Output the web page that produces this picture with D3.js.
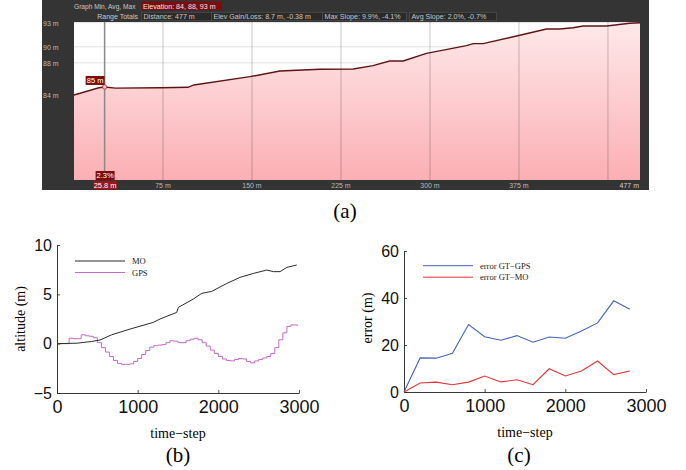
<!DOCTYPE html>
<html>
<head>
<meta charset="utf-8">
<script src="https://cdn.jsdelivr.net/npm/d3@7"></script>
<style>
  body { margin: 0; background: #fff; }
  svg { display: block; }
</style>
</head>
<body>
<div id="chart"></div>
<script>
// ---- panel (a): elevation profile screenshot ----
const elevDist = [0, 21, 25.8, 35, 72.5, 96, 101, 148.3, 173.5, 207.2, 235.3, 252, 266, 277.4, 297, 330.8, 336.4, 344.8, 373, 398.2, 409.4, 420.6, 429, 448.8, 468.4, 477];
const elevM    = [84.0, 84.9, 85.0, 84.85, 84.9, 84.96, 85.25, 86.28, 86.99, 87.2, 87.24, 87.65, 88.23, 88.23, 89.19, 90.14, 90.39, 90.39, 91.35, 92.22, 92.22, 92.38, 92.59, 92.59, 92.93, 93.0];
const elevTicksY = [93, 90, 88, 84];
const elevGridX = [75, 150, 225, 300, 375, 450];
const elevLabelsX = [75, 150, 225, 300, 375];
const totalDist = 477;
const cursorDist = 25.8;
const cursorElev = 85;
const cursorSlope = '2.3%';
const headerBoxes = [
  { x0: 0,   x1: 70,  text: 'Distance: 477 m' },
  { x0: 70,  x1: 181, text: 'Elev Gain/Loss: 8.7 m, -0.38 m' },
  { x0: 181, x1: 265, text: 'Max Slope: 9.9%, -4.1%' },
  { x0: 268, x1: 355, text: 'Avg Slope: 2.0%, -0.7%' }
];

// ---- panel (b): altitude ----
const moStep = [0, 250, 430, 533, 678, 905, 1195, 1277, 1484, 1505, 1690, 1794, 1918, 2104, 2269, 2435, 2600, 2683, 2765, 2848, 2972];
const moAlt  = [0, 0.05, 0.22, 0.37, 0.9, 1.48, 2.16, 2.5, 3.17, 3.68, 4.52, 5.1, 5.3, 6.1, 6.72, 7.12, 7.46, 7.3, 7.3, 7.73, 7.97];
const gpsStep = [0, 50, 100, 150, 200, 250, 300, 350, 400, 450, 500, 550, 600, 650, 700, 750, 800, 850, 900, 950,
  1000, 1050, 1100, 1150, 1200, 1250, 1300, 1350, 1400, 1450, 1500, 1550, 1600, 1650, 1700, 1750, 1800, 1850, 1900, 1950,
  2000, 2050, 2100, 2150, 2200, 2250, 2300, 2350, 2400, 2450, 2500, 2550, 2600, 2650, 2700, 2750, 2800, 2850, 2900, 2950, 2980];
const gpsAlt = [0, 0, 0, 0.55, 0.5, 0.5, 0.9, 0.8, 0.75, 0.6, 0.1, -0.4, -0.85, -1.3, -1.7, -2.0, -2.1, -2.1, -2.05, -1.8,
  -1.5, -1.1, -0.7, -0.35, -0.2, -0.15, -0.1, 0.1, 0.3, 0.25, 0.1, 0.1, 0.3, 0.45, 0.55, 0.4, 0.1, -0.25, -0.65, -1.0,
  -1.3, -1.55, -1.7, -1.75, -1.6, -1.5, -1.55, -1.8, -1.95, -1.75, -1.6, -1.45, -1.3, -1.0, -0.4, 0.4, 1.1, 1.75, 1.9, 1.9, 1.8];

// ---- panel (c): error ----
const errStep = [0, 200, 400, 600, 800, 1000, 1200, 1400, 1600, 1800, 2000, 2200, 2400, 2600, 2800];
const errGps  = [0, 14.5, 14.4, 16.5, 28.7, 23.5, 22, 24, 21.2, 23.4, 22.9, 26, 29.4, 38.8, 35.2];
const errMo   = [0, 3.8, 4.2, 3.1, 4.2, 6.8, 4.3, 5.2, 3.1, 9.9, 6.8, 8.9, 13.2, 7.4, 8.9];
const timeTicks = [0, 1000, 2000, 3000];

const W = 686, H = 470;
const sans = 'Liberation Sans, Arial, sans-serif';
const serif = 'Liberation Serif, Times New Roman, serif';

const svg = d3.select('#chart').append('svg')
  .attr('width', W).attr('height', H);

// ============ (a) ============
const a = { left: 74, right: 640, top: 22, bottom: 180 };
const xa = d3.scaleLinear().domain([0, totalDist]).range([a.left, a.right]);
const ya = d3.scaleLinear().domain([84, 93]).range([95, 22.7]);

const ga = svg.append('g');
ga.append('rect').attr('x', 42).attr('y', 0).attr('width', 607).attr('height', 190).attr('fill', '#343434');
ga.append('rect').attr('x', a.left).attr('y', a.top).attr('width', a.right - a.left).attr('height', a.bottom - a.top).attr('fill', '#fff');

const defs = svg.append('defs');
const grad = defs.append('linearGradient').attr('id', 'pink')
  .attr('gradientUnits', 'userSpaceOnUse')
  .attr('x1', 0).attr('y1', a.top).attr('x2', 0).attr('y2', a.bottom);
grad.append('stop').attr('offset', 0).attr('stop-color', '#fee9ea');
grad.append('stop').attr('offset', 1).attr('stop-color', '#fbafb4');

// horizontal grid
ga.selectAll('.hgrid').data(elevTicksY).enter().append('line')
  .attr('x1', a.left).attr('x2', a.right)
  .attr('y1', d => ya(d)).attr('y2', d => ya(d))
  .attr('stroke', '#e2e2e2').attr('stroke-width', 1);

const elevData = elevDist.map((d, i) => ({ d, e: elevM[i] }));
ga.append('path').datum(elevData)
  .attr('d', d3.area().x(p => xa(p.d)).y0(a.bottom).y1(p => ya(p.e)))
  .attr('fill', 'url(#pink)');

// vertical grid
ga.selectAll('.vgrid').data(elevGridX).enter().append('line')
  .attr('x1', d => xa(d)).attr('x2', d => xa(d))
  .attr('y1', a.top).attr('y2', a.bottom)
  .attr('stroke', 'rgba(0,0,0,0.22)').attr('stroke-width', 1);

ga.append('path').datum(elevData)
  .attr('d', d3.line().x(p => xa(p.d)).y(p => ya(p.e)))
  .attr('fill', 'none').attr('stroke', '#5e1414').attr('stroke-width', 1.4);

// cursor
ga.append('line')
  .attr('x1', xa(cursorDist)).attr('x2', xa(cursorDist))
  .attr('y1', a.top).attr('y2', a.bottom)
  .attr('stroke', '#8a8a8a').attr('stroke-width', 1.5);
ga.append('circle').attr('cx', xa(cursorDist)).attr('cy', ya(cursorElev)).attr('r', 2.2)
  .attr('fill', '#f6c6c9').attr('stroke', '#a03030').attr('stroke-width', 0.8);

function tag(x, y, w, h, text, fill) {
  ga.append('rect').attr('x', x).attr('y', y).attr('width', w).attr('height', h).attr('fill', fill);
  ga.append('text').attr('x', x + w / 2).attr('y', y + h / 2 + 2.6)
    .attr('text-anchor', 'middle').attr('fill', '#fff')
    .attr('font-family', sans).attr('font-size', 7.5).text(text);
}
tag(xa(cursorDist) - 19, ya(cursorElev) - 11, 19, 9, cursorElev + ' m', '#7d0d0d');
tag(xa(cursorDist) - 9, a.bottom - 9, 19, 9, cursorSlope, '#7d0d0d');
tag(xa(cursorDist) - 11, a.bottom + 1, 23, 8.5, cursorDist + ' m', '#9e1616');

// axis labels
ga.selectAll('.ylab').data(elevTicksY).enter().append('text')
  .attr('x', 43).attr('y', d => ya(d) + 3)
  .attr('fill', '#b8b8b8').attr('font-family', sans).attr('font-size', 7)
  .text(d => d + ' m');
ga.selectAll('.xlab').data(elevLabelsX).enter().append('text')
  .attr('x', d => xa(d)).attr('y', 187.5)
  .attr('text-anchor', 'middle')
  .attr('fill', '#b8b8b8').attr('font-family', sans).attr('font-size', 7)
  .text(d => d + ' m');
ga.append('text').attr('x', a.right - 1).attr('y', 187.5).attr('text-anchor', 'end')
  .attr('fill', '#cfcfcf').attr('font-family', sans).attr('font-size', 7)
  .text(totalDist + ' m');

// header
ga.append('text').attr('x', 74).attr('y', 8.5)
  .attr('fill', '#c8c8c8').attr('font-family', sans).attr('font-size', 6.6)
  .text('Graph  Min, Avg, Max');
ga.append('rect').attr('x', 141).attr('y', 1.5).attr('width', 81).attr('height', 8.8).attr('fill', '#7d0d0d');
ga.append('text').attr('x', 143).attr('y', 8.5)
  .attr('fill', '#e8e8e8').attr('font-family', sans).attr('font-size', 7.1)
  .text('Elevation: 84, 88, 93 m');
ga.append('text').attr('x', 138).attr('y', 19).attr('text-anchor', 'end')
  .attr('fill', '#c8c8c8').attr('font-family', sans).attr('font-size', 7)
  .text('Range Totals');
headerBoxes.forEach(b => {
  ga.append('rect').attr('x', 141.5 + b.x0).attr('y', 12.3).attr('width', b.x1 - b.x0).attr('height', 8.4)
    .attr('fill', '#2a2a2a').attr('stroke', '#4e4e4e').attr('stroke-width', 0.8);
  ga.append('text').attr('x', 143.5 + b.x0).attr('y', 19)
    .attr('fill', '#c8c8c8').attr('font-family', sans).attr('font-size', 7.1)
    .text(b.text);
});

svg.append('text').attr('x', 345).attr('y', 218).attr('text-anchor', 'middle')
  .attr('font-family', serif).attr('font-size', 21).text('(a)');

// ============ (b) and (c) ============
function matlabAxes(g, x, y, yTicks) {
  const bottom = y.range()[0];
  const left = x.range()[0];
  const xAxis = g.append('g').attr('transform', `translate(0,${bottom})`)
    .call(d3.axisBottom(x).tickValues(timeTicks).tickFormat(d3.format('d'))
      .tickSizeInner(-3).tickSizeOuter(0).tickPadding(7));
  const yAxis = g.append('g').attr('transform', `translate(${left},0)`)
    .call(d3.axisLeft(y).tickValues(yTicks).tickFormat(d3.format('d'))
      .tickSizeInner(-3).tickSizeOuter(0).tickPadding(5));
  xAxis.attr('font-size', 18);
  yAxis.attr('font-size', 16);
  [xAxis, yAxis].forEach(ax => {
    ax.attr('font-family', sans);
    ax.select('.domain').attr('stroke', '#222').attr('stroke-width', 0.9);
    ax.selectAll('.tick line').attr('stroke', '#222').attr('stroke-width', 0.8);
    ax.selectAll('.tick text').attr('fill', '#111');
  });
}

function legend(g, x0, y0, items) {
  items.forEach((it, i) => {
    const yy = y0 + i * 11.5;
    g.append('line').attr('x1', x0).attr('x2', x0 + 50).attr('y1', yy).attr('y2', yy)
      .attr('stroke', it.color).attr('stroke-width', 1);
    g.append('text').attr('x', x0 + 57).attr('y', yy + 3)
      .attr('font-family', serif).attr('font-size', 8.5).attr('fill', '#222').text(it.label);
  });
}

// (b)
const xb = d3.scaleLinear().domain([0, 3000]).range([57, 299]);
const yb = d3.scaleLinear().domain([-5, 10]).range([393, 245]);
const gb = svg.append('g');
matlabAxes(gb, xb, yb, [-5, 0, 5, 10]);

gb.append('path').datum(gpsStep.map((t, i) => [t, gpsAlt[i]]))
  .attr('d', d3.line().x(p => xb(p[0])).y(p => yb(p[1])).curve(d3.curveStepAfter))
  .attr('fill', 'none').attr('stroke', '#c36bc3').attr('stroke-width', 1);
gb.append('path').datum(moStep.map((t, i) => [t, moAlt[i]]))
  .attr('d', d3.line().x(p => xb(p[0])).y(p => yb(p[1])))
  .attr('fill', 'none').attr('stroke', '#2b2b2b').attr('stroke-width', 1);

legend(gb, 75, 261, [{ label: 'MO', color: '#2b2b2b' }, { label: 'GPS', color: '#c36bc3' }]);

gb.append('text').attr('x', 178).attr('y', 438).attr('text-anchor', 'middle')
  .attr('font-family', serif).attr('font-size', 14).text('time\u2212step');
gb.append('text').attr('transform', 'translate(25,319) rotate(-90)').attr('text-anchor', 'middle')
  .attr('font-family', serif).attr('font-size', 14).text('altitude (m)');
gb.append('text').attr('x', 178).attr('y', 462).attr('text-anchor', 'middle')
  .attr('font-family', serif).attr('font-size', 21).text('(b)');

// (c)
const xc = d3.scaleLinear().domain([0, 3000]).range([404, 646]);
const yc = d3.scaleLinear().domain([0, 60]).range([392, 251]);
const gc = svg.append('g');
matlabAxes(gc, xc, yc, [0, 20, 40, 60]);

gc.append('path').datum(errStep.map((t, i) => [t, errGps[i]]))
  .attr('d', d3.line().x(p => xc(p[0])).y(p => yc(p[1])))
  .attr('fill', 'none').attr('stroke', '#4463b8').attr('stroke-width', 1.1);
gc.append('path').datum(errStep.map((t, i) => [t, errMo[i]]))
  .attr('d', d3.line().x(p => xc(p[0])).y(p => yc(p[1])))
  .attr('fill', 'none').attr('stroke', '#e3343a').attr('stroke-width', 1.1);

legend(gc, 423, 265.7, [{ label: 'error GT\u2212GPS', color: '#4463b8' }, { label: 'error GT\u2212MO', color: '#e3343a' }]);

gc.append('text').attr('x', 525).attr('y', 437).attr('text-anchor', 'middle')
  .attr('font-family', serif).attr('font-size', 14).text('time\u2212step');
gc.append('text').attr('transform', 'translate(372,318) rotate(-90)').attr('text-anchor', 'middle')
  .attr('font-family', serif).attr('font-size', 14).text('error (m)');
gc.append('text').attr('x', 519).attr('y', 462).attr('text-anchor', 'middle')
  .attr('font-family', serif).attr('font-size', 21).text('(c)');
</script>
</body>
</html>
